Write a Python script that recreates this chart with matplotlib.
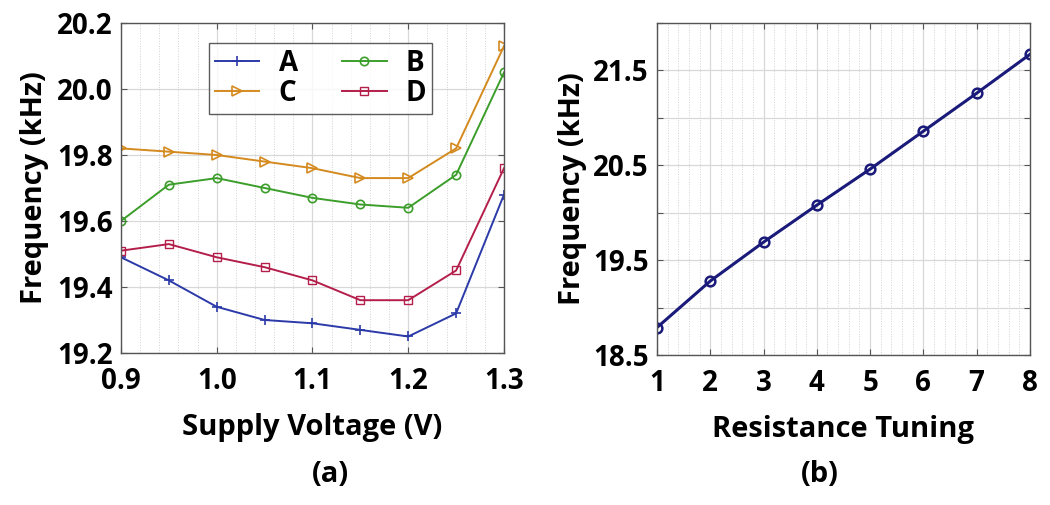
import matplotlib
matplotlib.use("Agg")
import matplotlib.pyplot as plt
from matplotlib.ticker import MultipleLocator

plt.rcParams['font.family'] = ['Open Sans', 'DejaVu Sans']
plt.rcParams['font.weight'] = 'bold'

# Panel (a) data
voltage = [0.9, 0.95, 1.0, 1.05, 1.1, 1.15, 1.2, 1.25, 1.3]
freq_A = [19.49, 19.42, 19.34, 19.30, 19.29, 19.27, 19.25, 19.32, 19.68]
freq_B = [19.60, 19.71, 19.73, 19.70, 19.67, 19.65, 19.64, 19.74, 20.05]
freq_C = [19.82, 19.81, 19.80, 19.78, 19.76, 19.73, 19.73, 19.82, 20.13]
freq_D = [19.51, 19.53, 19.49, 19.46, 19.42, 19.36, 19.36, 19.45, 19.76]
xticks_a = [0.9, 1.0, 1.1, 1.2, 1.3]
yticks_a = [19.2, 19.4, 19.6, 19.8, 20.0, 20.2]

# Panel (b) data
tuning = [1, 2, 3, 4, 5, 6, 7, 8]
freq_b = [18.79, 19.28, 19.69, 20.08, 20.46, 20.86, 21.26, 21.67]
yticks_b = [18.5, 19.0, 19.5, 20.0, 20.5, 21.0, 21.5, 22.0]
ylabels_b = ['18.5', '', '19.5', '', '20.5', '', '21.5', '']

fig = plt.figure(figsize=(10.5, 5.05), dpi=100)
ax1 = fig.add_axes([0.1152, 0.301, 0.3648, 0.6535])
ax2 = fig.add_axes([0.6257, 0.297, 0.3552, 0.6574])

lw = 1.4
hA, = ax1.plot(voltage, freq_A, color='#2b3aa8', marker='+', ms=7, mew=1.2, lw=lw, label='A')
hB, = ax1.plot(voltage, freq_B, color='#3c9e2a', marker='o', ms=6, mfc='none', mew=1.2, lw=lw, label='B')
hC, = ax1.plot(voltage, freq_C, color='#d48a1e', marker='>', ms=7, mfc='none', mew=1.2, lw=lw, label='C')
hD, = ax1.plot(voltage, freq_D, color='#b41e4a', marker='s', ms=5.5, mfc='none', mew=1.0, lw=lw, label='D')

ax1.set_xlim(0.9, 1.3)
ax1.set_ylim(19.2, 20.2)
ax1.set_xticks(xticks_a)
ax1.set_xticklabels([f"{v:.1f}" for v in xticks_a])
ax1.set_yticks(yticks_a)
ax1.set_yticklabels([f"{v:.1f}" for v in yticks_a])
ax1.xaxis.set_minor_locator(MultipleLocator(0.02))
ax1.set_xlabel('Supply Voltage (V)', fontsize=21, fontweight='bold', labelpad=12)
ax1.set_ylabel('Frequency (kHz)', fontsize=21, fontweight='bold', labelpad=6)

leg = ax1.legend([hA, hC, hB, hD], ['A', 'C', 'B', 'D'], ncol=2, loc='upper left',
                 bbox_to_anchor=(0.23, 0.939),
                 prop={'weight': 'bold', 'size': 20}, frameon=True, fancybox=False,
                 edgecolor='#333333', handlelength=1.6, columnspacing=1.6,
                 borderpad=0.2, labelspacing=0.05, handletextpad=0.7,
                 borderaxespad=0.0)
leg.get_frame().set_linewidth(1.0)

ax2.plot(tuning, freq_b, color='#1a1a7a', marker='o', ms=7, mfc='none', mew=1.8, lw=2.2)
ax2.set_xlim(1, 8)
ax2.set_ylim(18.5, 22.0)
ax2.set_xticks(tuning)
ax2.set_yticks(yticks_b)
ax2.set_yticklabels(ylabels_b)
ax2.xaxis.set_minor_locator(MultipleLocator(0.2))
ax2.set_xlabel('Resistance Tuning', fontsize=21, fontweight='bold', labelpad=12)
ax2.set_ylabel('Frequency (kHz)', fontsize=21, fontweight='bold', labelpad=4)

for ax in (ax1, ax2):
    ax.grid(True, which='major', color='#d8d8d8', lw=0.9, ls='-')
    ax.grid(True, which='minor', axis='x', color='#d0d0d0', lw=0.7, ls=':')
    ax.set_axisbelow(True)
    ax.tick_params(which='major', direction='in', top=True, right=True,
                   length=4, width=0.8, labelsize=20, color='#555555')
    ax.tick_params(axis='x', which='major', pad=10)
    ax.tick_params(axis='y', which='major', pad=6)
    ax.tick_params(which='minor', length=0)
    for lab in ax.get_xticklabels() + ax.get_yticklabels():
        lab.set_fontweight('bold')
    for s in ax.spines.values():
        s.set_color('#555555')
        s.set_linewidth(1.0)

fig.text(0.3143, 0.06, '(a)', ha='center', va='center', fontsize=21, fontweight='bold')
fig.text(0.781, 0.06, '(b)', ha='center', va='center', fontsize=21, fontweight='bold')

fig.savefig('out.png', dpi=100)
